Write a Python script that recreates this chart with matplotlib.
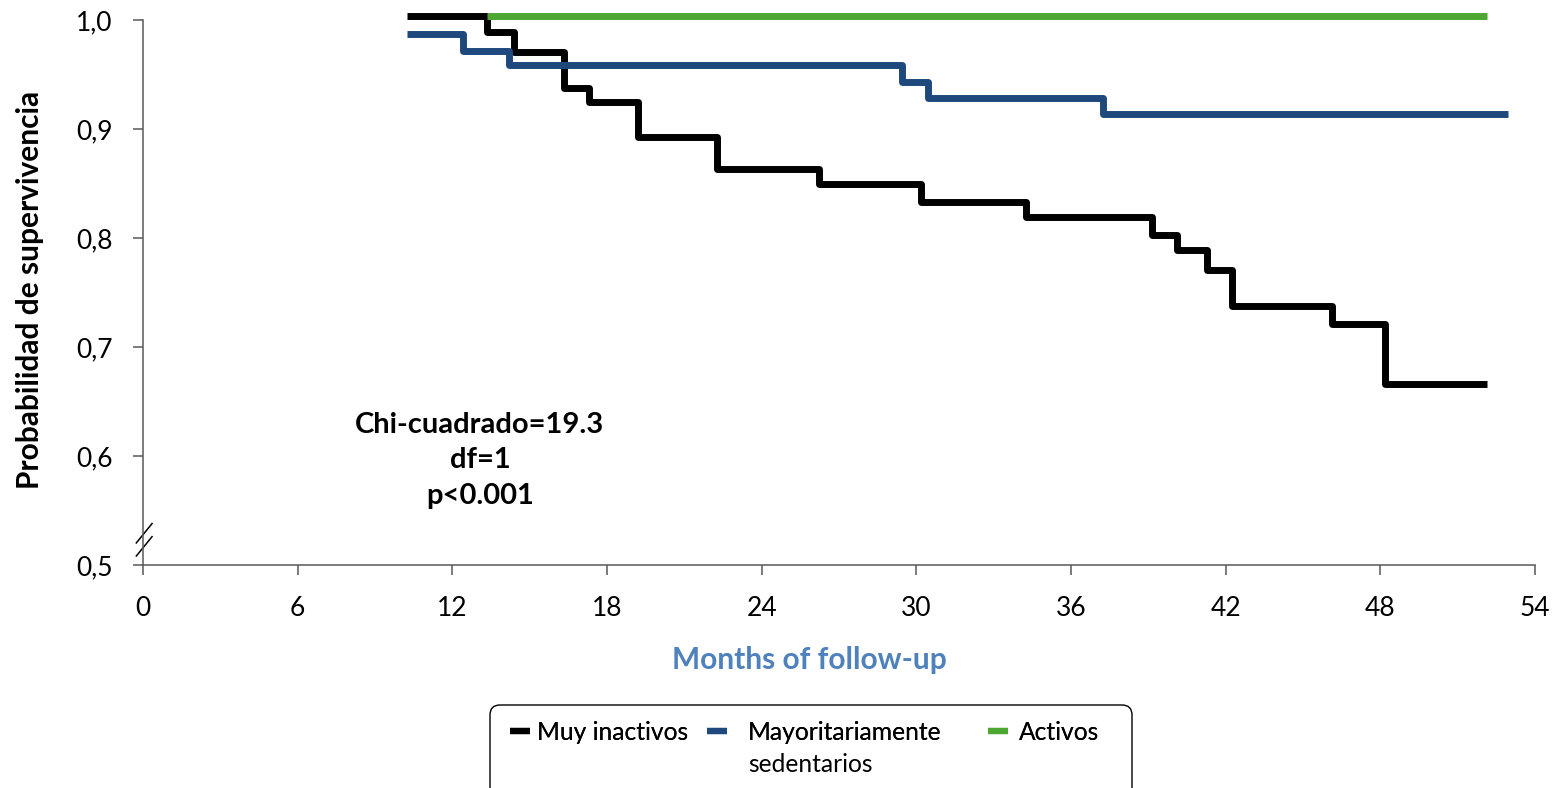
import matplotlib
matplotlib.use("Agg")
import matplotlib.pyplot as plt
from matplotlib.patches import FancyBboxPatch
from matplotlib.lines import Line2D

plt.rcParams['font.family'] = ['Lato', 'DejaVu Sans']

# curvas de supervivencia (meses, probabilidad)
meses_inactivos = [10.25, 13.33, 14.39, 16.33, 17.29, 19.21, 22.25, 26.21, 30.17,
                   34.26, 39.13, 40.10, 41.26, 42.23, 46.11, 48.19, 52.12]
surv_inactivos = [1.004, 0.989, 0.971, 0.938, 0.925, 0.893, 0.863, 0.850, 0.833,
                  0.819, 0.803, 0.789, 0.771, 0.738, 0.721, 0.666, 0.666]

meses_sedentarios = [10.23, 12.43, 14.21, 29.46, 30.45, 37.23, 52.97]
surv_sedentarios = [0.987, 0.972, 0.9585, 0.943, 0.928, 0.914, 0.914]

meses_activos = [13.36, 52.15]
surv_activos = [1.004, 1.004]

nombres = ["Muy inactivos", "Mayoritariamente", "Activos"]
colores = ["#000000", "#1F497D", "#4EA733"]

y_ticks = [0.5, 0.6, 0.7, 0.8, 0.9, 1.0]
y_etiquetas = ["0,5", "0,6", "0,7", "0,8", "0,9", "1,0"]
x_ticks = list(range(0, 55, 6))

fig = plt.figure(figsize=(15.6, 7.88), dpi=100)
ax = fig.add_axes([143 / 1560, 1 - 565 / 788, 1392 / 1560, 545 / 788])

series = [(meses_inactivos, surv_inactivos), (meses_sedentarios, surv_sedentarios),
          (meses_activos, surv_activos)]
for (x, y), c in zip(series, colores):
    ax.plot(x, y, drawstyle="steps-post", color=c, lw=5, clip_on=False,
            solid_capstyle="butt", solid_joinstyle="round")

ax.set_xlim(0, 54)
ax.set_ylim(0.5, 1.0)
ax.set_xticks(x_ticks)
ax.set_yticks(y_ticks)
ax.set_yticklabels(y_etiquetas)
for s in ["top", "right"]:
    ax.spines[s].set_visible(False)
for s in ["left", "bottom"]:
    ax.spines[s].set_color("#595959")
    ax.spines[s].set_linewidth(1.1)
ax.tick_params(axis="both", direction="out", length=7, width=1.1, color="#595959",
               labelsize=19, labelcolor="#000000")
ax.tick_params(axis="y", pad=15)
ax.tick_params(axis="x", pad=15)

# marca de corte del eje y
for off in [0.0, 0.024]:
    ax.plot([-0.0048, 0.0065], [0.0165 + off, 0.052 + off], transform=ax.transAxes,
            color="#000000", lw=1.1, clip_on=False)

ax.set_ylabel("Probabilidad de supervivencia", fontsize=21.5, fontweight="bold")
ax.yaxis.set_label_coords(-0.0815, 0.505)
ax.yaxis.label.set_verticalalignment("center")

ax.set_xlabel("Months of follow-up", fontsize=21.5, fontweight="bold", color="#4F81BD")
ax.xaxis.set_label_coords(0.479, -0.175)
ax.xaxis.label.set_verticalalignment("center")

ax.text(13.07, 0.596, "Chi-cuadrado=19.3\ndf=1\np<0.001", ha="center", va="center",
        fontsize=21, fontweight="bold", linespacing=1.45)

# leyenda
caja = FancyBboxPatch((4.90, -0.3), 6.42, 1.13, boxstyle="round,pad=0,rounding_size=0.1",
                      transform=fig.dpi_scale_trans, facecolor="white",
                      edgecolor="#000000", lw=1.0, clip_on=False)
fig.patches.append(caja)

pos_x = [510, 707, 988]
pads = [0.28, 0.85, 0.45]
for nombre, c, px, pad in zip(nombres, colores, pos_x, pads):
    h = Line2D([], [], color=c, lw=4.5, solid_capstyle="butt")
    leg = fig.legend([h], [nombre], loc="center left",
                     bbox_to_anchor=(px / 1560, 1 - 732 / 788), frameon=False,
                     borderpad=0, borderaxespad=0, handlelength=0.82,
                     handletextpad=pad, fontsize=17.7)
    fig.add_artist(leg)
fig.text(748 / 1560, 1 - 764 / 788, "sedentarios", ha="left", va="center", fontsize=17.7)

fig.savefig("out.png", dpi=100)
